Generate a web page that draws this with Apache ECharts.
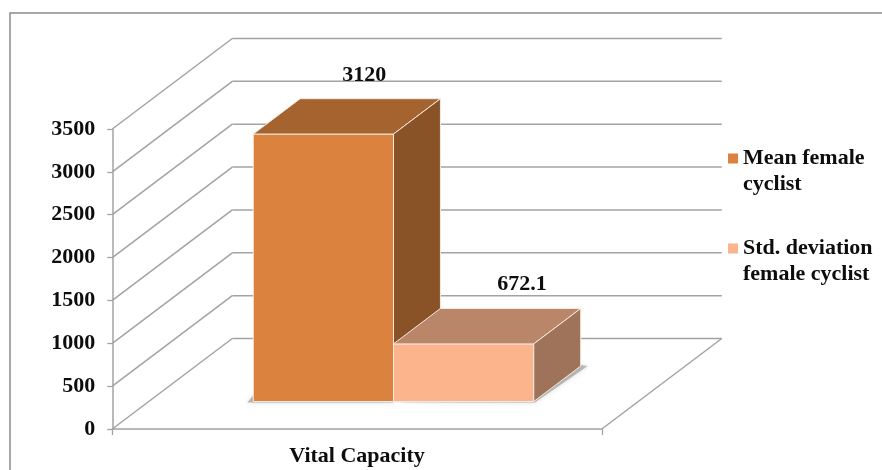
<!DOCTYPE html>
<html>
<head>
<meta charset="utf-8">
<style>html,body{margin:0;padding:0;background:#fff}#chart{width:882px;height:470px}</style>
<script src="https://cdn.jsdelivr.net/npm/echarts@6/dist/echarts.min.js"></script>
</head>
<body>
<div id="chart"></div>
<script>
// Values
const categories = ['Vital Capacity'];
const seriesNames = ['Mean female cyclist', 'Std. deviation female cyclist'];
const meanValues = [3120];
const stdValues = [672.1];
const valueTicks = [0, 500, 1000, 1500, 2000, 2500, 3000, 3500];

// Oblique projection and palette for the pseudo-3D box look
const DEPTH = [120, -90.5];
const BAR_NEAR = 0.304, BAR_FAR = 0.695;
const BAR_GAP = 0.2135, BAR_SPAN = 0.2865;
const WALL_COLOR = '#a3a3a3';
const FONT = '"Liberation Serif", "Times New Roman", serif';
const TEXT_COLOR = '#0d0d0d';
const faces = [
  { front: '#da823e', top: '#a5642f', side: '#8a5327', labelDx: 17.5 },
  { front: '#fbb48c', top: '#ba866a', side: '#9e735a', labelDx: 35 }
];
const legendLines = {
  'Mean female cyclist': 'Mean female\ncyclist',
  'Std. deviation female cyclist': 'Std. deviation\nfemale cyclist'
};

const chart = echarts.init(document.getElementById('chart'), null, { renderer: 'canvas' });

// Side wall diagonals and back wall lines for each tick, plus the right floor edge
function renderWall(params, api) {
  const value = api.value(1);
  const p = api.coord([0, value]);
  const band = api.size([1, 0])[0];
  const line = (a, b) => ({
    type: 'line',
    shape: { x1: a[0], y1: a[1], x2: b[0], y2: b[1] },
    style: { stroke: WALL_COLOR, lineWidth: 1.5, fill: null }
  });
  const left = [p[0] - band / 2, p[1]];
  const back = [left[0] + DEPTH[0], left[1] + DEPTH[1]];
  const backRight = [back[0] + band, back[1]];
  const children = [line(left, back), line(back, backRight)];
  if (value === 0) {
    children.push(line([left[0] + band, left[1]], backRight));
  }
  return { type: 'group', children };
}

function renderBar(index) {
  return function (params, api) {
    const base = api.coord([0, 0]);
    const topPt = api.coord([0, api.value(1)]);
    const band = api.size([1, 0])[0];
    const face = faces[index];
    const x0 = base[0] - band / 2 + band * (BAR_GAP + index * BAR_SPAN) + DEPTH[0] * BAR_NEAR;
    const x1 = x0 + band * BAR_SPAN;
    const yb = base[1] + DEPTH[1] * BAR_NEAR;
    const yt = topPt[1] + DEPTH[1] * BAR_NEAR;
    const dx = DEPTH[0] * (BAR_FAR - BAR_NEAR);
    const dy = DEPTH[1] * (BAR_FAR - BAR_NEAR);
    const edge = { stroke: '#f6e9de', lineWidth: 1, lineJoin: 'round' };
    const poly = (points, fill) => ({
      type: 'polygon',
      shape: { points },
      style: Object.assign({ fill }, edge)
    });
    const softShadow = points => ({
      type: 'polygon',
      shape: { points },
      style: { fill: 'rgba(125,125,125,0.5)', shadowBlur: 5, shadowColor: 'rgba(125,125,125,0.55)' }
    });
    const children = [];
    // soft contact shadow on the floor
    if (index === 0) {
      children.push(softShadow([[x0 - 6, yb + 1], [x1, yb + 1], [x1, yb - 6], [x0, yb - 6]]));
    } else {
      children.push(softShadow([[x0, yb + 1], [x1 + 1, yb + 1], [x1 + dx + 7, yb + dy], [x1 + dx, yb + dy - 1], [x1, yb - 4]]));
    }
    children.push(poly([[x0, yb], [x1, yb], [x1, yt], [x0, yt]], face.front));
    children.push(poly([[x0, yt], [x1, yt], [x1 + dx, yt + dy], [x0 + dx, yt + dy]], face.top));
    children.push(poly([[x1, yb], [x1 + dx, yb + dy], [x1 + dx, yt + dy], [x1, yt]], face.side));
    children.push({
      type: 'text',
      style: {
        text: String(api.value(1)),
        x: (x0 + x1) / 2 + dx / 2 + face.labelDx,
        y: yt + dy / 2 - 41.5,
        align: 'center',
        verticalAlign: 'middle',
        font: 'bold 22px ' + FONT,
        fill: TEXT_COLOR
      }
    });
    return { type: 'group', children };
  };
}

const toPairs = arr => arr.map((v, i) => [i, v]);

chart.setOption({
  animation: false,
  backgroundColor: '#fff',
  graphic: [{
    type: 'rect',
    shape: { x: 10, y: 13, width: 1000, height: 600 },
    style: { fill: null, stroke: '#8c8c8c', lineWidth: 1.5 },
    silent: true
  }],
  grid: { left: 112.3, top: 129, width: 489.5, height: 300, containLabel: false },
  legend: {
    data: seriesNames,
    orient: 'vertical',
    left: 728,
    top: 145,
    padding: 0,
    itemWidth: 10,
    itemHeight: 50,
    itemGap: 38,
    // square sits level with the first text line of the two-line entry
    icon: 'path://M0 0L0 0Z M0 7.5H10V17.5H0Z M0 50L0 50Z',
    selectedMode: false,
    formatter: name => legendLines[name],
    textStyle: { fontFamily: FONT, fontWeight: 'bold', fontSize: 22, color: TEXT_COLOR, lineHeight: 26 }
  },
  xAxis: {
    type: 'category',
    data: categories,
    axisLine: { lineStyle: { color: WALL_COLOR, width: 1.5 } },
    axisTick: { show: true, length: 6, alignWithLabel: false, lineStyle: { color: WALL_COLOR, width: 1.3 } },
    axisLabel: { fontFamily: FONT, fontWeight: 'bold', fontSize: 22, color: TEXT_COLOR, margin: 16 }
  },
  yAxis: {
    type: 'value',
    min: 0,
    max: 3500,
    interval: 500,
    splitLine: { show: false },
    axisLine: { show: true, lineStyle: { color: WALL_COLOR, width: 1.5 } },
    axisTick: { show: true, length: 5, lineStyle: { color: WALL_COLOR, width: 1.3 } },
    axisLabel: {
      formatter: v => String(v),
      fontFamily: FONT, fontWeight: 'bold', fontSize: 22, color: TEXT_COLOR, margin: 17,
      padding: [3, 0, 0, 0]
    }
  },
  series: [
    {
      name: 'walls',
      type: 'custom',
      renderItem: renderWall,
      data: valueTicks.map(t => [0, t]),
      encode: { x: 0, y: 1 },
      z: 1,
      silent: true,
      clip: false
    },
    {
      name: seriesNames[0],
      type: 'custom',
      renderItem: renderBar(0),
      data: toPairs(meanValues),
      encode: { x: 0, y: 1 },
      itemStyle: { color: faces[0].front },
      z: 2,
      clip: false
    },
    {
      name: seriesNames[1],
      type: 'custom',
      renderItem: renderBar(1),
      data: toPairs(stdValues),
      encode: { x: 0, y: 1 },
      itemStyle: { color: faces[1].front },
      z: 3,
      clip: false
    }
  ]
});
</script>
</body>
</html>
